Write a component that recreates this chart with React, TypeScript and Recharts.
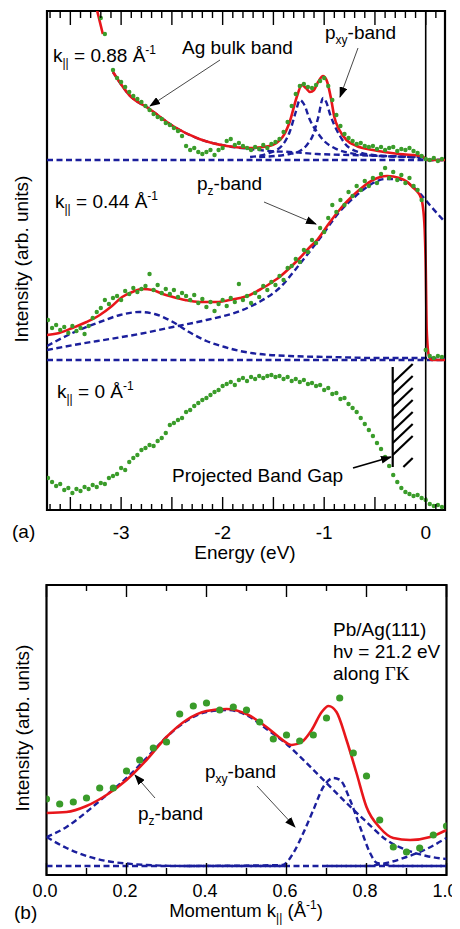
import React from 'react';
import { ComposedChart, Line, Scatter, XAxis, YAxis, ReferenceLine, ReferenceArea } from 'recharts';

const FONT = '"Liberation Sans", Arial, Helvetica, sans-serif';
const RED = '#e8161b';
const BLUE = '#1b1f9c';
const GREEN = '#3a9c2a';

// ---------- Panel (a): energy grid of the measured points (eV) ----------
const energyGrid = [
  -3.72, -3.68, -3.64, -3.6, -3.56, -3.52, -3.48, -3.44, -3.4, -3.36,
  -3.32, -3.28, -3.24, -3.2, -3.16, -3.12, -3.08, -3.04, -3.0, -2.96,
  -2.92, -2.88, -2.84, -2.8, -2.76, -2.72, -2.68, -2.64, -2.6, -2.56,
  -2.52, -2.48, -2.44, -2.4, -2.36, -2.32, -2.28, -2.24, -2.2, -2.16,
  -2.12, -2.08, -2.04, -2.0, -1.96, -1.92, -1.88, -1.84, -1.8, -1.76,
  -1.72, -1.68, -1.64, -1.6, -1.56, -1.52, -1.48, -1.44, -1.4, -1.36,
  -1.32, -1.28, -1.24, -1.2, -1.16, -1.12, -1.08, -1.04, -1.0, -0.96,
  -0.92, -0.88, -0.84, -0.8, -0.76, -0.72, -0.68, -0.64, -0.6, -0.56,
  -0.52, -0.48, -0.44, -0.4, -0.36, -0.32, -0.28, -0.24, -0.2, -0.16,
  -0.12, -0.08, -0.04, 0.0, 0.04, 0.08, 0.12, 0.16,
];

// measured intensities (arb. units, with vertical offsets), k = 0.88
const dots088: (number | null)[] = [
  null, null, null, null, null, null, null, null, null, null,
  null, null, null, 492, 476, null, 440, 432, 428, 423,
  418, 414, 411, 408, 404, 400, 396, 393, 391, 387,
  385, 382, 379, 374, 364, 360, 362, 358, 356, 358,
  360, 355, 360, 362, 369, 371, 365, 367, 364, 362,
  360, 363, 361, 365, 362, 366, 368, 371, 378, 388,
  404, 416, 424, 426, 423, 422, 425, 429, 432, 424,
  410, 395, 384, 376, 372, 369, 366, 367, 364, 363,
  364, 361, 363, 360, 362, 363, 359, 361, 360, 362,
  359, 357, 354, 351, 350, 352, 349, 351,
];

// k = 0.44
const dots044: (number | null)[] = [
  190, 182, 185, 180, 183, 177, 184, 179, 182, 176,
  184, 192, 198, 202, 210, 206, 212, 214, 210, 219,
  216, 222, 218, 221, 224, 236, 220, 225, 217, 221,
  216, 220, 213, 217, 214, 210, 215, 207, 211, 203,
  208, 199, 206, 210, 204, 212, 208, 226, 210, 214,
  207, 217, 213, 224, 220, 228, 225, 234, 230, 242,
  244, 251, 248, 260, 258, 270, 267, 282, 278, 292,
  305, 298, 310, 305, 318, 314, 324, 320, 329, 324,
  332, 327, 336, 342, 332, 338, 330, 335, 327, 332,
  324, 320, 310, 160, 154, 152, 154, 153,
];

// k = 0
const dots000: (number | null)[] = [
  32, 28, 24, 26, 20, 22, 17, 21, 19, 23,
  21, 25, 23, 27, 26, 32, 34, 36, 42, 40,
  48, 52, 55, 60, 62, 65, 64, 69, 72, 77,
  85, 87, 90, 92, 98, 100, 104, 107, 110, 112,
  115, 118, 120, 124, 126, 128, 125, 130, 132, 129,
  133, 131, 134, 132, 134, 135, 133, 134, 131, 133,
  129, 131, 128, 130, 126, 127, 124, 125, 120, 122,
  116, 117, 111, 112, 106, 102, 98, 92, 86, 80,
  74, 67, 61, 53, 44, 35, 28, 22, 18, 16,
  14, 15, 12, 10, 6, 4, 5, 3,
];

// fits and components, [energy, intensity]
const fit088: [number, number | null][] = [
  [-3.25, 505], [-3.18, 476], [-3.13, null], [-3.08, 438], [-2.92, 415], [-2.72, 401],
  [-2.49, 384], [-2.23, 371], [-1.96, 364], [-1.73, 362], [-1.54, 364], [-1.41, 373],
  [-1.34, 388], [-1.27, 413], [-1.22, 425], [-1.18, 422], [-1.14, 418], [-1.1, 420],
  [-1.06, 428], [-1.01, 434], [-0.97, 428], [-0.93, 410], [-0.9, 393], [-0.85, 380],
  [-0.78, 370], [-0.68, 364], [-0.52, 360], [-0.26, 356], [-0.04, 354], [-0.01, 352],
  [0.02, 350], [0.19, 350],
];
const bulk088: [number, number][] = [
  [-3.08, 438], [-2.92, 415], [-2.72, 401], [-2.49, 384], [-2.23, 371], [-1.96, 364],
  [-1.73, 361], [-1.54, 359], [-1.34, 358], [-1.07, 356], [-0.75, 355], [-0.43, 354],
  [-0.04, 353], [0.02, 350], [0.19, 350],
];
const peak1088: [number, number][] = [
  [-1.73, 353], [-1.54, 357], [-1.41, 365], [-1.34, 378], [-1.28, 398], [-1.24, 410],
  [-1.2, 406], [-1.14, 390], [-1.07, 378], [-1.0, 369], [-0.9, 362], [-0.75, 357],
  [-0.45, 354], [-0.06, 353],
];
const peak2088: [number, number][] = [
  [-1.64, 353], [-1.34, 356], [-1.24, 359], [-1.17, 365], [-1.11, 375], [-1.06, 392],
  [-1.01, 412], [-0.98, 408], [-0.94, 395], [-0.9, 385], [-0.85, 375], [-0.75, 362],
  [-0.52, 355], [-0.19, 353], [-0.04, 352],
];
const base088: [number, number][] = [[-3.73, 350], [0.19, 350]];

const fit044: [number, number][] = [
  [-3.73, 175], [-3.61, 177], [-3.48, 182], [-3.34, 188], [-3.21, 195], [-3.09, 204],
  [-2.99, 213], [-2.89, 218], [-2.79, 221], [-2.69, 220], [-2.59, 216], [-2.49, 213],
  [-2.37, 210], [-2.23, 208], [-2.06, 208], [-1.93, 210], [-1.83, 212], [-1.73, 215],
  [-1.64, 220], [-1.54, 226], [-1.44, 233], [-1.34, 242], [-1.24, 252], [-1.14, 263],
  [-1.07, 270], [-0.95, 287], [-0.85, 300], [-0.78, 308], [-0.7, 316], [-0.62, 323],
  [-0.52, 330], [-0.38, 334], [-0.26, 332], [-0.18, 328], [-0.13, 323], [-0.08, 318],
  [-0.05, 313], [-0.03, 305], [-0.01, 280], [0.0, 245], [0.01, 180], [0.03, 155],
  [0.06, 150], [0.19, 150],
];
const peak044: [number, number][] = [
  [-3.73, 164], [-3.48, 177], [-3.21, 188], [-3.01, 195], [-2.82, 198], [-2.67, 196],
  [-2.49, 188], [-2.33, 178], [-2.16, 169], [-1.98, 163], [-1.83, 159], [-1.64, 156],
  [-1.34, 154], [-0.95, 153], [-0.45, 152], [0.0, 152], [0.19, 151],
];
const broad044: [number, number][] = [
  [-3.73, 160], [-3.41, 166], [-3.11, 171], [-2.82, 176], [-2.49, 183], [-2.16, 190],
  [-1.83, 199], [-1.64, 208], [-1.44, 222], [-1.24, 246], [-1.04, 272], [-0.85, 298],
  [-0.7, 313], [-0.55, 325], [-0.4, 331], [-0.28, 331], [-0.16, 326], [-0.06, 317],
  [0.04, 305], [0.19, 288],
];
const base044: [number, number][] = [[-3.73, 150], [0.19, 150]];

// projected band gap box: energy edges and intensity range; hatch lines as [x1,y1,x2,y2]
const gapEdges = { left: -0.325, right: -0.128, bottom: 43, top: 143 };
const gapHatch: [number, number, number, number][] = [
  [-0.325, 127, -0.128, 146], [-0.325, 115, -0.128, 134], [-0.325, 103, -0.128, 122],
  [-0.325, 91, -0.128, 110], [-0.325, 79, -0.128, 98], [-0.325, 67, -0.128, 86],
  [-0.325, 55, -0.128, 74], [-0.22, 43, -0.128, 52],
];

const energyTicks = [
  -3.7, -3.6, -3.5, -3.4, -3.3, -3.2, -3.1, -3.0, -2.9, -2.8, -2.7, -2.6, -2.5, -2.4,
  -2.3, -2.2, -2.1, -2.0, -1.9, -1.8, -1.7, -1.6, -1.5, -1.4, -1.3, -1.2, -1.1, -1.0,
  -0.9, -0.8, -0.7, -0.6, -0.5, -0.4, -0.3, -0.2, -0.1, 0.0, 0.1,
];

// ---------- Panel (b): momentum distribution ----------
const kGrid = [
  0, 0.033, 0.067, 0.1, 0.133, 0.167, 0.2, 0.233, 0.267, 0.3, 0.333, 0.367, 0.4, 0.433,
  0.467, 0.5, 0.533, 0.567, 0.6, 0.633, 0.667, 0.7, 0.733, 0.767, 0.8, 0.833, 0.867,
  0.9, 0.933, 0.967, 1.0,
];
const dotsK = [
  76, 71, 73, 77, 87, 87, 104, 115, 127, 133, 161, 169, 172, 165, 168, 165, 153, 136,
  140, 134, 140, 157, 177, 122, 99, 55, 28, 23, 27, 40, 49,
];
const fitK: [number, number][] = [
  [0, 62], [0.05, 63], [0.1, 69], [0.15, 80], [0.2, 95], [0.25, 115], [0.3, 138],
  [0.35, 155], [0.4, 164], [0.45, 166], [0.5, 161], [0.55, 148], [0.584, 137],
  [0.613, 130], [0.638, 133], [0.663, 145], [0.688, 163], [0.705, 169], [0.725, 163],
  [0.75, 135], [0.775, 102], [0.8, 68], [0.834, 47], [0.867, 37], [0.909, 35],
  [0.959, 38], [1.0, 45],
];
const pzK: [number, number][] = [
  [0, 38], [0.05, 48], [0.1, 63], [0.15, 80], [0.2, 97], [0.25, 117], [0.3, 138],
  [0.35, 154], [0.4, 163], [0.45, 165], [0.5, 160], [0.55, 146], [0.6, 131], [0.65, 112],
  [0.7, 92], [0.75, 72], [0.8, 53], [0.85, 35], [0.9, 25], [0.95, 19], [1.0, 16],
];
const pxyK: [number, number][] = [
  [0.35, 9], [0.59, 10], [0.617, 22], [0.642, 42], [0.667, 65], [0.692, 88], [0.717, 97],
  [0.734, 95], [0.759, 75], [0.784, 48], [0.809, 22], [0.826, 12], [0.884, 9], [1.0, 9],
];
const bgLeftK: [number, number][] = [
  [0, 38], [0.05, 27], [0.1, 19], [0.15, 14], [0.2, 11.5], [0.25, 10], [0.35, 9], [0.6, 9],
];
const bgRightK: [number, number][] = [
  [0.7, 9], [0.8, 9], [0.85, 12], [0.9, 18], [0.95, 26], [1.0, 37],
];
const baseK: [number, number][] = [[0, 9], [1, 9]];
const kTicks = [0, 0.1, 0.2, 0.3, 0.4, 0.5, 0.6, 0.7, 0.8, 0.9, 1.0];

// ---------- helpers ----------
const ePts = (arr: [number, number | null][]) => arr.map(([e, v]) => ({ e, v }));
const kPts = (arr: [number, number][]) => arr.map(([k, v]) => ({ k, v }));
const eDots = (vals: (number | null)[]) =>
  energyGrid.map((e, i) => ({ e, v: vals[i] })).filter((d) => d.v !== null);
const kDots = kGrid.map((k, i) => ({ k, v: dotsK[i] }));

const isMult = (v: number, step: number) => Math.abs(v / step - Math.round(v / step)) < 1e-6;

const EnergyTickBottom = (props: any) => {
  const { x, y, payload } = props;
  const v = payload.value as number;
  const major = isMult(v, 0.5);
  return (
    <g>
      <line x1={x} x2={x} y1={y} y2={y - (major ? 13 : 6)} stroke="#000" strokeWidth={1.4} />
      {isMult(v, 1) && (
        <text x={x} y={y + 29} textAnchor="middle" fontSize={19} fontFamily={FONT} fill="#000">
          {String(Math.round(v))}
        </text>
      )}
    </g>
  );
};
const EnergyTickTop = (props: any) => {
  const { x, y, payload } = props;
  const v = payload.value as number;
  const major = isMult(v, 0.5);
  return <line x1={x} x2={x} y1={y} y2={y + (major ? 14 : 7)} stroke="#000" strokeWidth={1.4} />;
};
const KTickBottom = (props: any) => {
  const { x, y, payload } = props;
  const v = payload.value as number;
  const major = isMult(v, 0.2);
  return (
    <g>
      <line x1={x} x2={x} y1={y} y2={y - (major ? 12 : 7)} stroke="#000" strokeWidth={1.4} />
      {major && (
        <text x={x - 1.5} y={y + 21.5} textAnchor="middle" fontSize={18} fontFamily={FONT} fill="#000">
          {v.toFixed(1)}
        </text>
      )}
    </g>
  );
};
const KTickTop = (props: any) => {
  const { x, y, payload } = props;
  const v = payload.value as number;
  const major = isMult(v, 0.2);
  return <line x1={x} x2={x} y1={y} y2={y + (major ? 12 : 6)} stroke="#000" strokeWidth={1.4} />;
};

const smallDot = (p: any) => <circle cx={p.cx} cy={p.cy} r={2.2} fill={GREEN} />;
const bigDot = (p: any) => <circle cx={p.cx} cy={p.cy} r={3.6} fill={GREEN} />;

const dashProps = {
  type: 'monotone' as const,
  dataKey: 'v',
  dot: false,
  activeDot: false,
  isAnimationActive: false,
  stroke: BLUE,
  strokeWidth: 2.4,
  strokeDasharray: '6 3.5',
};
const fitProps = {
  type: 'monotone' as const,
  dataKey: 'v',
  dot: false,
  activeDot: false,
  isAnimationActive: false,
  stroke: RED,
  strokeWidth: 2.6,
};

const E_DOMAIN: [number, number] = [-3.73, 0.19];
const K_DOMAIN: [number, number] = [0, 1];

const Sub = ({ children }: { children: React.ReactNode }) => (
  <tspan fontSize={12} dy={5}>{children}</tspan>
);

export default function App() {
  return (
    <div style={{ position: 'relative', width: 452, height: 921, fontFamily: FONT }}>
      {/* Panel (a) */}
      <div style={{ position: 'absolute', left: 0, top: 0 }}>
        <ComposedChart width={452} height={560} margin={{ top: 0, right: 15, bottom: 0, left: 39 }}>
          <XAxis dataKey="e" type="number" domain={E_DOMAIN} allowDataOverflow ticks={energyTicks}
            interval={0} tickSize={0} tickMargin={0} axisLine={false} tickLine={false} height={58}
            tick={(p: any) => <EnergyTickBottom {...p} />} />
          <XAxis xAxisId="top" orientation="top" dataKey="e" type="number" domain={E_DOMAIN}
            allowDataOverflow ticks={energyTicks} interval={0} tickSize={0} tickMargin={0}
            axisLine={false} tickLine={false} height={3} tick={(p: any) => <EnergyTickTop {...p} />} />
          <YAxis dataKey="v" type="number" domain={[0, 499]} allowDataOverflow hide />
          <ReferenceLine segment={[{ x: gapEdges.left, y: gapEdges.bottom }, { x: gapEdges.left, y: gapEdges.top }]}
            stroke="#000" strokeWidth={2.2} />
          {gapHatch.map(([x1, y1, x2, y2], i) => (
            <ReferenceLine key={`h${i}`} segment={[{ x: x1, y: y1 }, { x: x2, y: y2 }]} stroke="#000" strokeWidth={2.2} />
          ))}
          <Line data={ePts(base088)} {...dashProps} />
          <Line data={ePts(bulk088)} {...dashProps} />
          <Line data={ePts(peak1088)} {...dashProps} />
          <Line data={ePts(peak2088)} {...dashProps} />
          <Line data={ePts(base044)} {...dashProps} />
          <Line data={ePts(peak044)} {...dashProps} />
          <Line data={ePts(broad044)} {...dashProps} />
          <Scatter data={eDots(dots088)} dataKey="v" shape={smallDot} isAnimationActive={false} />
          <Scatter data={eDots(dots044)} dataKey="v" shape={smallDot} isAnimationActive={false} />
          <Scatter data={eDots(dots000)} dataKey="v" shape={smallDot} isAnimationActive={false} />
          <Line data={ePts(fit088)} {...fitProps} />
          <Line data={ePts(fit044)} {...fitProps} />
          <ReferenceLine x={0} stroke="#000" strokeWidth={1.6} />
          <ReferenceArea x1={E_DOMAIN[0]} x2={E_DOMAIN[1]} y1={0} y2={499} fill="none" stroke="#000" strokeWidth={2.2} />
        </ComposedChart>
      </div>

      {/* Panel (b) */}
      <div style={{ position: 'absolute', left: 0, top: 570 }}>
        <ComposedChart width={452} height={345} margin={{ top: 0, right: 13.5, bottom: 0, left: 38.5 }}>
          <XAxis dataKey="k" type="number" domain={K_DOMAIN} allowDataOverflow ticks={kTicks}
            interval={0} tickSize={0} tickMargin={0} axisLine={false} tickLine={false} height={48}
            tick={(p: any) => <KTickBottom {...p} />} />
          <XAxis xAxisId="top" orientation="top" dataKey="k" type="number" domain={K_DOMAIN}
            allowDataOverflow ticks={kTicks} interval={0} tickSize={0} tickMargin={0}
            axisLine={false} tickLine={false} height={7} tick={(p: any) => <KTickTop {...p} />} />
          <YAxis dataKey="v" type="number" domain={[0, 290]} allowDataOverflow hide />
          <Line data={kPts(baseK)} {...dashProps} />
          <Line data={kPts(bgLeftK)} {...dashProps} />
          <Line data={kPts(bgRightK)} {...dashProps} />
          <Line data={kPts(pxyK)} {...dashProps} />
          <Line data={kPts(pzK)} {...dashProps} />
          <Scatter data={kDots} dataKey="v" shape={bigDot} isAnimationActive={false} />
          <Line data={kPts(fitK)} {...fitProps} />
          <ReferenceArea x1={0} x2={1} y1={0} y2={290} fill="none" stroke="#000" strokeWidth={2.2} />
        </ComposedChart>
      </div>

      {/* annotations */}
      <svg width={452} height={921} style={{ position: 'absolute', left: 0, top: 0, pointerEvents: 'none' }}
        fontFamily={FONT} fontSize={19} fill="#000">
        <defs>
          <marker id="ah" markerWidth="11" markerHeight="8" refX="10" refY="4" orient="auto" markerUnits="userSpaceOnUse">
            <path d="M0,0 L11,4 L0,8 z" fill="#000" />
          </marker>
        </defs>
        <g transform="translate(-8,-8)">
          {/* panel (a) labels */}
          <text x={53} y={62}>k<Sub>||</Sub><tspan dy={-5}> = 0.88 Å</tspan><tspan fontSize={12} dy={-8}>-1</tspan></text>
          <text x={182} y={54}>Ag bulk band</text>
          <line x1={220} y1={60} x2={150} y2={106} stroke="#333" strokeWidth={0.9} markerEnd="url(#ah)" />
          <text x={325} y={39}>p<Sub>xy</Sub><tspan dy={-5}>-band</tspan></text>
          <line x1={358} y1={48} x2={340} y2={97} stroke="#333" strokeWidth={0.9} markerEnd="url(#ah)" />
          <text x={55} y={208}>k<Sub>||</Sub><tspan dy={-5}> = 0.44 Å</tspan><tspan fontSize={12} dy={-8}>-1</tspan></text>
          <text x={197} y={190}>p<Sub>z</Sub><tspan dy={-5}>-band</tspan></text>
          <line x1={264} y1={202} x2={316} y2={224} stroke="#333" strokeWidth={0.9} markerEnd="url(#ah)" />
          <text x={57} y={398}>k<Sub>||</Sub><tspan dy={-5}> = 0 Å</tspan><tspan fontSize={12} dy={-8}>-1</tspan></text>
          <text x={172} y={482}>Projected Band Gap</text>
          <line x1={353} y1={468} x2={391} y2={457} stroke="#000" strokeWidth={1.8} markerEnd="url(#ah)" />
          <text x={12} y={538}>(a)</text>
          <text x={245} y={559} textAnchor="middle">Energy (eV)</text>
          <text transform="translate(28,259) rotate(-90)" textAnchor="middle">Intensity (arb. units)</text>

          {/* panel (b) labels */}
          <text x={333} y={636}>Pb/Ag(111)</text>
          <text x={333} y={658}>hν = 21.2 eV</text>
          <text x={333} y={680}>along <tspan fontFamily='"Liberation Serif", "Times New Roman", serif'>ΓK</tspan></text>
          <text x={138} y={820}>p<Sub>z</Sub><tspan dy={-5}>-band</tspan></text>
          <line x1={155} y1={798} x2={135} y2={775} stroke="#333" strokeWidth={0.9} markerEnd="url(#ah)" />
          <text x={205} y={778}>p<Sub>xy</Sub><tspan dy={-5}>-band</tspan></text>
          <line x1={257} y1={786} x2={295} y2={827} stroke="#333" strokeWidth={0.9} markerEnd="url(#ah)" />
          <text x={14} y={919}>(b)</text>
          <text x={246} y={917} textAnchor="middle" fontSize={18.5}>Momentum k<Sub>||</Sub><tspan dy={-5}> (Å</tspan><tspan fontSize={12} dy={-8}>-1</tspan><tspan dy={8}>)</tspan></text>
          <text transform="translate(29,728) rotate(-90)" textAnchor="middle">Intensity (arb. units)</text>
        </g>
      </svg>
    </div>
  );
}
